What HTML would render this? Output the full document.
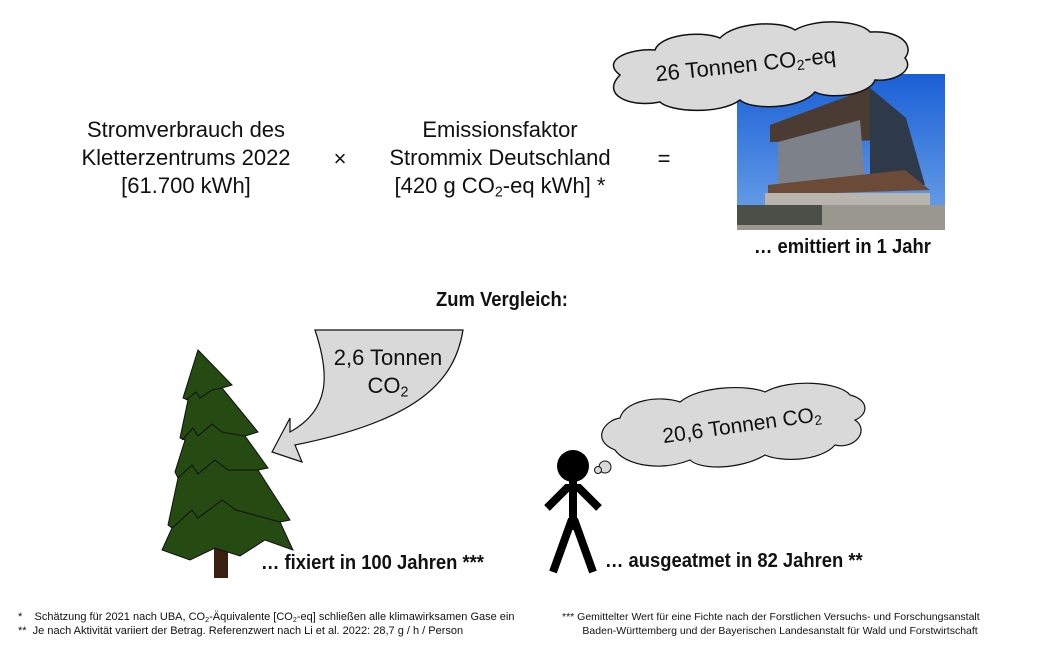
<!DOCTYPE html>
<html><head><meta charset="utf-8"><style>
body{margin:0;width:1054px;height:650px;background:#fff;position:relative;overflow:hidden;font-family:"Liberation Sans",sans-serif;color:#111}
.t{position:absolute;white-space:nowrap}
.c{text-align:center;font-size:22px;line-height:28px}
.b{font-weight:bold;font-size:20px;transform:scaleX(0.92);transform-origin:left top}
.f{font-size:11px;line-height:14px}
sub{font-size:0.65em;vertical-align:-0.25em;line-height:0}
</style></head><body>
<svg width="1054" height="650" style="position:absolute;left:0;top:0">
 <defs><linearGradient id="sky" x1="0" y1="0" x2="0" y2="1"><stop offset="0" stop-color="#1a5fd6"/><stop offset="1" stop-color="#6fa4e8"/></linearGradient></defs>
 <rect x="737" y="74" width="208" height="156" fill="url(#sky)"/>
 <polygon points="770,125 870,88 906,118 906,140 770,142" fill="#4a3c33"/>
 <polygon points="778,142 860,120 865,180 778,185" fill="#7d8189"/>
 <polygon points="870,88 906,118 925,185 870,185" fill="#2e3a4a"/>
 <polygon points="768,185 905,170 930,190 768,195" fill="#6b4a38"/>
 <rect x="765" y="193" width="165" height="22" fill="#b8b4ae"/>
 <rect x="737" y="205" width="208" height="25" fill="#9a9890"/>
 <rect x="737" y="205" width="85" height="20" fill="#4a4f48"/>
 <path d="M620,75 C600,60 630,48 655,50 C660,35 700,30 720,38 C735,22 780,20 795,30 C815,18 860,20 870,32 C900,30 915,45 905,58 C915,70 895,82 875,80 C870,95 830,100 815,92 C800,110 750,110 740,100 C720,115 670,112 660,102 C630,108 600,95 620,75 Z" fill="#d9d9d9" stroke="#111" stroke-width="1.5"/>
 <path d="M315,330 L463,330 C455,380 420,420 295,445 L302,462 L272,452 L290,418 L290,432 C330,410 330,375 315,330 Z" fill="#d9d9d9" stroke="#111" stroke-width="1.2"/>
 <rect x="214" y="545" width="14" height="33" fill="#3b200f"/>
 <path d="M198,350 L232,385 L222,388 L258,432 L245,436 L268,468 L258,470 L290,520 L280,522 L293,550 L265,540 L240,556 L215,548 L190,560 L162,550 L172,528 L168,525 L178,478 L175,472 L185,440 L180,438 L188,400 L183,398 Z" fill="#254a12" stroke="#111" stroke-width="1"/>
 <path d="M186,400 L196,392 L200,398 L212,390 L222,388 M182,440 L193,428 L198,436 L212,424 L222,432 L245,436 M178,478 L192,465 L198,474 L215,460 L228,470 L258,470 M172,528 L192,510 L198,518 L222,500 L236,510 L280,522" fill="none" stroke="#111" stroke-width="1"/>
 <circle cx="573" cy="466" r="16" fill="#000"/>
 <g stroke="#000" stroke-width="8" fill="none">
  <line x1="573" y1="480" x2="573" y2="530"/>
  <polyline points="547,508 567,488 579,488 599,508"/>
  <polyline points="553,572 571,522 575,522 593,572"/>
 </g>
 <path d="M615,450 C590,440 605,420 620,418 C625,400 660,395 680,402 C700,385 750,385 765,392 C790,378 840,382 850,395 C870,400 868,415 855,420 C870,430 855,450 835,445 C820,462 780,462 765,455 C740,470 700,470 690,460 C660,472 625,465 615,450 Z" fill="#d9d9d9" stroke="#111" stroke-width="1.2"/>
 <circle cx="605" cy="467" r="6" fill="#d9d9d9" stroke="#111"/>
 <circle cx="598" cy="470" r="3.5" fill="#d9d9d9" stroke="#111"/>
</svg>
<div class="t c" style="left:56px;top:116px;width:260px">Stromverbrauch des<br>Kletterzentrums 2022<br>[61.700 kWh]</div>
<div class="t c" style="left:328px;top:145px;width:24px">×</div>
<div class="t c" style="left:360px;top:116px;width:280px">Emissionsfaktor<br>Strommix Deutschland<br>[420 g CO<sub>2</sub>-eq kWh] *</div>
<div class="t c" style="left:650px;top:145px;width:28px">=</div>
<div class="t" style="left:655px;top:52px;font-size:22px;transform:rotate(-6deg)">26 Tonnen CO<sub>2</sub>-eq</div>
<div class="t b" style="left:754px;top:236px">… emittiert in 1 Jahr</div>
<div class="t b" style="left:436px;top:289px">Zum Vergleich:</div>
<div class="t c" style="left:318px;top:344px;width:140px">2,6 Tonnen<br>CO<sub>2</sub></div>
<div class="t b" style="left:261px;top:552px">… fixiert in 100 Jahren ***</div>
<div class="t" style="left:662px;top:414px;font-size:21px;transform:rotate(-8deg)">20,6 Tonnen CO<sub>2</sub></div>
<div class="t b" style="left:605px;top:550px">… ausgeatmet in 82 Jahren **</div>
<div class="t f" style="left:18px;top:610px">*&nbsp;&nbsp;&nbsp; Schätzung für 2021 nach UBA, CO<sub>2</sub>-Äquivalente [CO<sub>2</sub>-eq] schließen alle klimawirksamen Gase ein<br>**&nbsp; Je nach Aktivität variiert der Betrag. Referenzwert nach Li et al. 2022: 28,7 g / h / Person</div>
<div class="t f" style="left:562px;top:610px;font-size:10.5px">*** Gemittelter Wert für eine Fichte nach der Forstlichen Versuchs- und Forschungsanstalt<br>&nbsp;&nbsp;&nbsp;&nbsp;&nbsp;&nbsp; Baden-Württemberg und der Bayerischen Landesanstalt für Wald und Forstwirtschaft</div>
</body></html>
